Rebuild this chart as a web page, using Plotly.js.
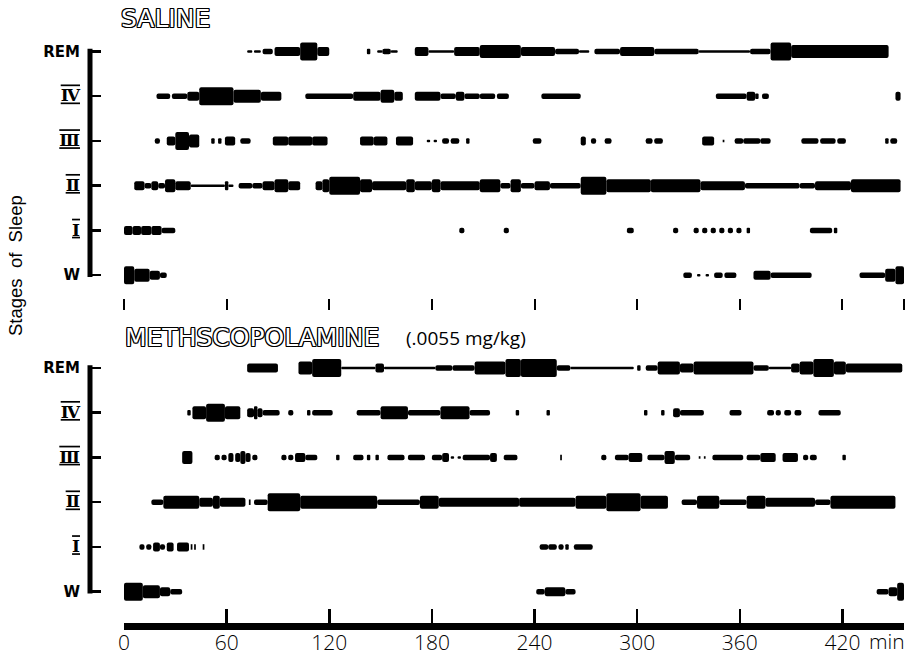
<!DOCTYPE html>
<html>
<head>
<meta charset="utf-8">
<script src="https://cdn.plot.ly/plotly-3.0.1.min.js"></script>
<style>html,body{margin:0;padding:0;background:#fff}#chart{width:909px;height:656px}</style>
</head>
<body>
<div id="chart"></div>
<script>
// Stage order (bottom to top)
const stageLabels = ['W', 'I', 'II', 'III', 'IV', 'REM'];
const xTickVals = [0, 60, 120, 180, 240, 300, 360, 420, 456];
const xTickText = ['0', '60', '120', '180', '240', '300', '360', '420', ''];

// Episodes: [start min, end min, EEG amplitude level 1-5]
const salineREM = [[72,75,1],[76,80,1],[81,87,2],[88,103,3],[103,113,5],[113,120,3],[142,144,2],[148,151,1],[151,156,2],[156,160,1],[170,178,3],[178,193,1],[193,208,3],[208,232,4],[232,252,3],[252,266,2],[266,272,1],[275,290,2],[290,310,3],[310,336,2],[336,366,1],[366,378,2],[378,390,5],[390,447,4]];
const salineIV = [[19,27,2],[28,37,2],[37,44,3],[44,64,5],[64,80,4],[80,92,3],[106,134,2],[134,150,3],[150,158,4],[158,163,3],[170,185,3],[185,194,2],[194,199,3],[199,208,2],[208,217,2],[218,225,2],[244,267,2],[346,364,2],[364,369,3],[369,371,2],[373,377,2],[451,454,3]];
const salineIII = [[18,21,2],[25,30,3],[30,38,5],[38,44,4],[51,53,2],[55,57,2],[59,65,3],[68,74,2],[87,96,3],[96,110,3],[110,119,3],[138,146,3],[146,154,3],[159,169,3],[177,179,1],[181,183,1],[186,190,2],[191,196,2],[200,202,2],[239,244,2],[267,270,3],[273,276,2],[281,285,2],[305,309,2],[310,315,2],[338,345,3],[350,351,1],[357,362,2],[362,372,2],[372,378,2],[396,406,2],[407,416,2],[417,422,2],[445,447,2],[448,452,2]];
const salineII = [[6,12,3],[12,16,2],[16,20,3],[20,24,2],[24,30,4],[30,39,3],[39,59,1],[59,61,3],[61,64,1],[67,75,2],[75,81,2],[81,88,3],[88,96,4],[96,103,3],[112,116,3],[116,120,4],[120,138,5],[138,145,4],[145,165,3],[165,170,4],[170,180,3],[180,185,4],[185,208,3],[208,220,4],[220,226,2],[226,232,4],[232,240,2],[240,249,3],[249,267,2],[267,282,5],[282,308,4],[308,337,4],[337,363,3],[363,395,2],[395,404,2],[404,425,3],[425,454,4]];
const salineI = [[0,5,3],[5,10,3],[10,16,3],[16,22,3],[22,30,2],[196,199,2],[222,225,2],[294,298,2],[321,324,2],[333,336,2],[338,341,2],[343,346,2],[348,351,2],[353,356,2],[358,361,2],[364,366,2],[401,414,2],[415,417,2]];
const salineW = [[0,6,5],[6,15,4],[15,21,3],[21,25,2],[327,332,2],[335,337,1],[340,342,1],[345,350,2],[351,358,2],[368,378,3],[378,402,2],[430,445,2],[445,451,4],[451,456,5]];

const methREM = [[72,90,3],[102,110,4],[110,127,5],[127,147,1],[147,152,3],[152,182,1],[182,192,2],[192,205,2],[205,223,4],[223,232,5],[232,253,5],[253,261,2],[261,298,1],[300,302,2],[305,312,2],[312,325,4],[325,333,3],[333,368,4],[368,377,2],[377,390,1],[390,395,3],[395,403,4],[403,415,5],[415,422,4],[422,455,3]];
const methIV = [[37,39,2],[40,48,4],[48,59,5],[59,68,4],[72,76,3],[76,78,4],[78,81,3],[81,91,2],[96,99,2],[107,109,2],[110,122,2],[136,150,2],[150,166,4],[166,185,2],[185,202,4],[202,214,2],[229,231,2],[247,249,2],[304,306,2],[314,316,2],[321,325,3],[325,339,2],[354,361,2],[376,380,2],[381,384,2],[386,390,2],[392,396,2],[406,419,2]];
const methIII = [[34,40,4],[53,56,2],[57,60,2],[61,64,3],[65,68,3],[68,71,4],[71,74,3],[75,78,2],[92,95,2],[96,99,2],[100,106,3],[106,113,2],[124,126,2],[134,140,2],[142,144,2],[147,149,2],[154,164,2],[166,176,2],[180,186,2],[186,190,3],[191,193,1],[195,197,1],[198,214,2],[214,218,3],[222,230,2],[255,256,2],[279,282,2],[287,295,2],[295,303,3],[306,316,2],[316,322,4],[322,331,2],[336,337,1],[339,340,1],[344,362,2],[364,372,2],[372,381,3],[385,394,3],[397,400,2],[401,405,2],[420,422,2]];
const methII = [[16,23,2],[23,44,4],[44,52,3],[52,56,4],[56,71,3],[73,74,2],[76,84,2],[84,103,5],[103,148,4],[148,173,2],[173,184,4],[184,231,3],[231,264,3],[264,282,4],[282,302,5],[302,318,4],[326,335,2],[335,348,4],[348,364,2],[364,375,4],[375,404,3],[404,413,2],[413,451,4]];
const methI = [[9,12,2],[13,16,2],[17,21,3],[21,24,2],[25,29,3],[31,38,3],[39,40,2],[41,42,2],[46,47,2],[243,248,2],[248,253,2],[254,257,2],[258,260,2],[263,274,2]];
const methW = [[0,11,5],[11,21,4],[21,27,3],[27,34,2],[241,246,2],[246,258,3],[258,264,2],[440,447,2],[447,452,3],[452,456,5]];

const salineRows = [salineW, salineI, salineII, salineIII, salineIV, salineREM];
const methRows = [methW, methI, methII, methIII, methIV, methREM];

const LEVEL_PX = {1: 2.5, 2: 5.5, 3: 9, 4: 13, 5: 18};
const PX_PER_UNIT = 44.7;

function buildTrace(rows, xa, ya) {
  const x = [], y = [], base = [], width = [];
  rows.forEach((eps, i) => {
    eps.forEach(([a, b, l]) => {
      y.push(i); base.push(a); x.push(b - a); width.push(LEVEL_PX[l] / PX_PER_UNIT);
    });
  });
  return {
    type: 'bar', orientation: 'h', x, y, base, width,
    xaxis: xa, yaxis: ya,
    marker: {color: '#000', line: {width: 0}, cornerradius: 2},
    hoverinfo: 'skip', showlegend: false
  };
}

const ser = 'font-family:DejaVu Serif;font-weight:bold;font-size:17px;text-decoration:overline underline';
const yTickText = [
  'W',
  '<span style="' + ser + '">Ⅰ</span>',
  '<span style="' + ser + '">Ⅱ</span>',
  '<span style="' + ser + '">Ⅲ</span>',
  '<span style="' + ser + '">Ⅳ</span>',
  'REM'
];

const W = 909, H = 656;
const py = p => 1 - p / H;
const px = p => p / W;

const yCommon = {
  anchor: 'free', position: px(90), tickmode: 'array', tickvals: [0,1,2,3,4,5], ticktext: yTickText,
  ticks: 'inside', ticklen: 10, tickwidth: 2.5, tickcolor: '#000',
  showgrid: false, zeroline: false, showline: false,
  tickfont: {family: 'DejaVu Sans', size: 15, color: '#000', weight: 'bold'},
  ticklabelstandoff: 10, fixedrange: true
};
const xCommon = {
  domain: [px(124), px(904)], range: [0, 456], tickmode: 'array', tickvals: xTickVals, ticktext: xTickText,
  showgrid: false, zeroline: false, fixedrange: true, tickcolor: '#000'
};

const outline = '1px 0 0 #000, -1px 0 0 #000, 0 1px 0 #000, 0 -1px 0 #000, 1px 1px 0 #000, -1px -1px 0 #000, 1px -1px 0 #000, -1px 1px 0 #000';

const layout = {
  width: W, height: H,
  margin: {l: 0, r: 0, t: 0, b: 0},
  paper_bgcolor: '#fff', plot_bgcolor: 'rgba(0,0,0,0)',
  barmode: 'overlay',
  showlegend: false,
  xaxis: Object.assign({}, xCommon, {anchor: 'y', ticks: 'outside', ticklen: 11, tickwidth: 2, showticklabels: false, showline: false}),
  yaxis: Object.assign({}, yCommon, {domain: [py(298), py(33.6)], range: [-0.51, 5.4]}),
  xaxis2: Object.assign({}, xCommon, {anchor: 'y2', ticks: 'inside', ticklen: 14, tickwidth: 2.5, showline: true, linewidth: 7, linecolor: '#000',
    ticklabelstandoff: -5,
    tickfont: {family: 'Open Sans', size: 21, color: '#000', weight: 300}}),
  yaxis2: Object.assign({}, yCommon, {domain: [py(623), py(350.1)], range: [-0.7, 5.4]}),
  shapes: [
    {type: 'line', xref: 'paper', yref: 'y', x0: px(90), x1: px(90), y0: -0.04, y1: 5.06, line: {color: '#000', width: 5}},
    {type: 'line', xref: 'paper', yref: 'y2', x0: px(90), x1: px(90), y0: -0.04, y1: 5.06, line: {color: '#000', width: 5}}
  ],
  annotations: [
    {text: 'SALINE', xref: 'paper', yref: 'paper', x: px(119), y: py(18), xanchor: 'left', yanchor: 'middle', showarrow: false,
      font: {family: 'DejaVu Sans', size: 25, color: '#fff', shadow: outline}},
    {text: 'METHSCOPOLAMINE', xref: 'paper', yref: 'paper', x: px(123), y: py(337), xanchor: 'left', yanchor: 'middle', showarrow: false,
      font: {family: 'DejaVu Sans', size: 25, color: '#fff', shadow: outline}},
    {text: '(.0055 mg/kg)', xref: 'paper', yref: 'paper', x: px(404), y: py(338), xanchor: 'left', yanchor: 'middle', showarrow: false,
      font: {family: 'Open Sans', size: 19, color: '#000'}},
    {text: 'Stages&nbsp;&nbsp;of&nbsp;&nbsp;Sleep', xref: 'paper', yref: 'paper', x: px(15), y: py(266), xanchor: 'center', yanchor: 'middle', showarrow: false,
      textangle: -90, font: {family: 'Liberation Sans', size: 18.5, color: '#000'}},
    {text: 'min', xref: 'paper', yref: 'paper', x: px(887), y: py(641), xanchor: 'center', yanchor: 'middle', showarrow: false,
      font: {family: 'Open Sans', size: 21, color: '#000', weight: 300}}
  ]
};

Plotly.newPlot('chart', [buildTrace(salineRows, 'x', 'y'), buildTrace(methRows, 'x2', 'y2')], layout, {displayModeBar: false, staticPlot: true});
</script>
</body>
</html>
